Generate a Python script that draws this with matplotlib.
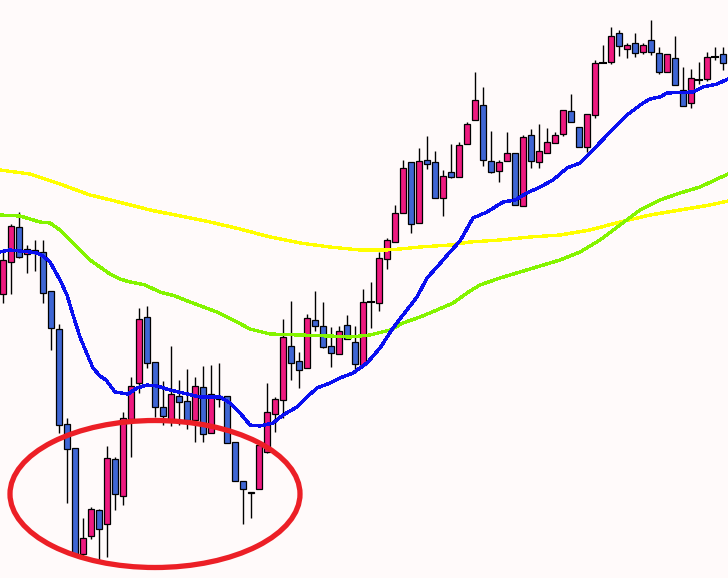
import matplotlib
matplotlib.use('Agg')
import matplotlib.pyplot as plt
from matplotlib.patches import Rectangle, Ellipse

# candle levels (chart rows, smaller = higher price)
opens = [294, 262, 227, 254, 250, 252, 291, 329, 424, 448,
         554, 536, 510, 524, 459, 496, 419, 383, 317, 362,
         407, 420, 396, 401, 420, 387, 433, 396, 396, 442,
         481, 493, 489, 452, 414, 400, 346, 361, 368, 320,
         326, 346, 354, 325, 342, 365, 302, 303, 259, 242,
         213, 162, 223, 160, 162, 198, 172, 177, 144, 120,
         105, 161, 171, 161, 153, 206, 135, 162, 153, 143,
         134, 111, 127, 147, 115, 63, 62, 33, 49, 43,
         52, 40, 53, 72, 58, 90, 103, 80, 79, 57, 54]
closes = [260, 226, 257, 249, 253, 293, 328, 425, 449, 555,
          538, 509, 529, 458, 494, 418, 386, 319, 363, 407,
          416, 394, 402, 420, 386, 434, 394, 399, 443, 481,
          489, 492, 445, 412, 399, 337, 363, 370, 318, 326,
          347, 353, 331, 339, 364, 302, 302, 258, 240, 213,
          168, 224, 161, 164, 198, 176, 177, 145, 124, 100,
          160, 172, 162, 153, 205, 137, 161, 151, 142, 135,
          110, 122, 147, 114, 63, 63, 36, 46, 45, 53,
          45, 52, 72, 54, 85, 106, 78, 80, 57, 57, 63]
highs = [249, 224, 212, 245, 240, 240, 291, 324, 418, 448,
         518, 507, 509, 446, 457, 412, 377, 308, 306, 362,
         381, 346, 380, 369, 377, 366, 365, 363, 396, 442,
         481, 492, 445, 383, 397, 319, 301, 352, 314, 291,
         302, 327, 326, 315, 326, 289, 282, 252, 238, 205,
         160, 162, 148, 136, 151, 170, 144, 142, 122, 72,
         87, 131, 160, 132, 153, 135, 129, 124, 128, 132,
         110, 94, 127, 114, 60, 45, 27, 30, 43, 33,
         43, 20, 47, 54, 36, 67, 69, 62, 52, 47, 47]
lows = [303, 294, 258, 273, 271, 303, 350, 433, 503, 556,
        556, 539, 562, 557, 510, 505, 457, 393, 368, 417,
        425, 426, 425, 429, 442, 442, 433, 407, 443, 481,
        524, 518, 489, 453, 432, 418, 380, 388, 368, 331,
        348, 367, 354, 339, 373, 365, 328, 311, 269, 242,
        213, 233, 223, 169, 198, 216, 178, 177, 144, 120,
        166, 173, 182, 161, 205, 206, 168, 168, 153, 143,
        136, 122, 147, 152, 118, 63, 64, 56, 58, 57,
        54, 55, 74, 72, 85, 106, 108, 84, 81, 60, 70]

# moving averages
fast_x = [0, 10, 30, 37, 43, 50, 60, 67, 73, 80, 87, 93, 100, 106, 115, 128,
          137, 147, 157, 170, 183, 200, 220, 230, 240, 250, 260, 273, 283,
          297, 307, 317, 330, 340, 353, 367, 380, 393, 403, 417, 427, 437,
          450, 460, 473, 487, 503, 515, 527, 540, 553, 567, 580, 593, 610,
          627, 643, 650, 660, 667, 693, 703, 717, 728]
fast_y = [252, 250, 252, 253, 256, 262, 280, 295, 315, 337, 354, 368, 376,
          380, 392, 394, 388, 385, 386, 390, 393, 397, 397, 403, 413, 425,
          426, 423, 415, 407, 397, 388, 383, 378, 373, 363, 348, 328, 315,
          297, 278, 267, 252, 241, 218, 212, 202, 200, 193, 187, 180, 168,
          163, 150, 132, 115, 103, 99, 97, 93, 92, 87, 84, 79]

mid_x = [0, 20, 40, 50, 60, 70, 80, 90, 100, 110, 120, 130, 145, 160, 175,
         190, 217, 237, 250, 270, 330, 350, 370, 390, 403, 420, 437, 453,
         470, 480, 500, 520, 540, 560, 580, 600, 620, 640, 660, 680, 700,
         715, 728]
mid_y = [215, 216, 222, 223, 230, 240, 250, 260, 267, 274, 279, 282, 285,
         292, 296, 302, 312, 322, 329, 334, 336, 337, 335, 330, 323, 317,
         310, 303, 291, 285, 278, 272, 266, 260, 252, 240, 225, 210, 200,
         193, 187, 180, 174]

slow_x = [0, 30, 60, 90, 111, 150, 180, 210, 240, 270, 300, 330, 360, 385,
          400, 420, 450, 470, 500, 530, 560, 590, 620, 650, 680, 710, 728]
slow_y = [170, 174, 184, 195, 200, 210, 216, 222, 229, 237, 243, 247, 250,
          250, 249, 247, 245, 242, 240, 237, 235, 230, 222, 215, 210, 205, 201]

bull_color = '#ee1a80'
bear_color = '#3f66d4'

fig = plt.figure(figsize=(7.28, 5.78), dpi=100)
ax = fig.add_axes([0, 0, 1, 1])
ax.set_facecolor('#fffafa')
fig.patch.set_facecolor('#fffafa')

for i in range(len(opens)):
    x = 3 + 8 * i
    o, c, h, l = opens[i], closes[i], highs[i], lows[i]
    ax.plot([x, x], [h, l], color='black', lw=1.0, zorder=2, solid_capstyle='butt')
    if o == c:
        ax.plot([x - 3, x + 3], [o, o], color='black', lw=1.5, zorder=3)
        continue
    color = bull_color if c < o else bear_color
    top = min(o, c)
    ax.add_patch(Rectangle((x - 3, top), 6, abs(o - c), facecolor=color,
                           edgecolor='black', lw=0.9, zorder=3))

ax.plot(slow_x, slow_y, color='#ffff00', lw=1.7, zorder=4, antialiased=False)
ax.plot(mid_x, mid_y, color='#84f400', lw=1.7, zorder=4, antialiased=False)
ax.plot(fast_x, fast_y, color='#0a10f0', lw=1.7, zorder=4, antialiased=False)

ax.add_patch(Ellipse((155, 494), 290, 147, fill=False, edgecolor='#ec1f26',
                     lw=3.8, zorder=5))

ax.set_xlim(0, 728)
ax.set_ylim(578, 0)
ax.axis('off')

fig.savefig('out.png', dpi=100, facecolor=fig.get_facecolor())
